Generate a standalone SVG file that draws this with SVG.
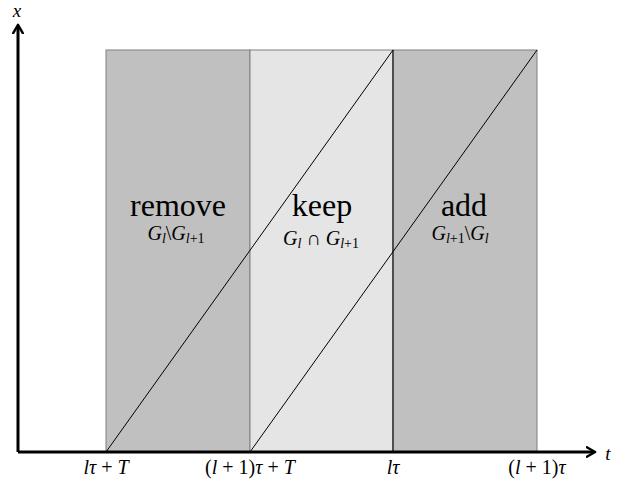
<svg xmlns="http://www.w3.org/2000/svg" width="624" height="485" viewBox="0 0 624 485">
<style>
.dark{fill:#c0c0c0}
.light{fill:#e5e5e5}
.edge{stroke:#808080;stroke-width:1;fill:none}
.line{stroke:#000;stroke-width:1;fill:none}
.axis{stroke:#000;stroke-width:3;fill:none}
.big{font-size:32px;text-anchor:middle}
.sub{font-size:20px;text-anchor:middle}
.tick{font-size:20px;text-anchor:middle}
.i{font-style:italic}
.s{font-size:14px}
</style>
<defs>
<marker id="ah" viewBox="0 0 10 10" refX="7" refY="5" markerWidth="4" markerHeight="4" orient="auto" markerUnits="strokeWidth">
<path d="M1,1 L8,5 L1,9" fill="none" stroke="#000" stroke-width="2" stroke-linecap="round" stroke-linejoin="round"/>
</marker>
</defs>
<g font-family="'Liberation Serif', 'DejaVu Serif', serif" fill="#000">
<g id="remove">
<rect class="dark" x="106" y="50" width="144" height="402"/>
<rect class="edge" x="106" y="50" width="144" height="402"/>
<text class="big" x="178" y="216">remove</text>
<text class="sub" x="176" y="240"><tspan class="i">G</tspan><tspan class="i s" dy="3">l</tspan><tspan dy="-3">\</tspan><tspan class="i">G</tspan><tspan class="s" dy="3"><tspan class="i">l</tspan>+1</tspan></text>
</g>
<g id="keep">
<rect class="light" x="250" y="50" width="143" height="402"/>
<rect class="edge" x="250" y="50" width="143" height="402"/>
<text class="big" x="322" y="216">keep</text>
<text class="sub" x="321" y="245"><tspan class="i">G</tspan><tspan class="i s" dy="3">l</tspan><tspan dy="-3"> ∩ </tspan><tspan class="i">G</tspan><tspan class="s" dy="3"><tspan class="i">l</tspan>+1</tspan></text>
</g>
<g id="add">
<rect class="dark" x="393" y="50" width="144" height="402"/>
<rect class="edge" x="393" y="50" width="144" height="402"/>
<text class="big" x="464" y="216">add</text>
<text class="sub" x="460" y="240"><tspan class="i">G</tspan><tspan class="s" dy="3"><tspan class="i">l</tspan>+1</tspan><tspan dy="-3">\</tspan><tspan class="i">G</tspan><tspan class="i s" dy="3">l</tspan></text>
</g>
<g id="connectors">
<line class="line" x1="393" y1="50" x2="393" y2="452"/>
<line class="line" x1="106" y1="452" x2="393" y2="50"/>
<line class="line" x1="250" y1="452" x2="537" y2="50"/>
<line class="axis" x1="18" y1="452" x2="18" y2="26" marker-end="url(#ah)"/>
<line class="axis" x1="18" y1="452" x2="594" y2="452" marker-end="url(#ah)"/>
</g>
<g id="labels">
<text class="i" x="17" y="17" font-size="19" text-anchor="middle">x</text>
<text class="i" x="608" y="460" font-size="19" text-anchor="middle">t</text>
<text class="tick" x="106" y="474"><tspan class="i">lτ</tspan> + <tspan class="i">T</tspan></text>
<text class="tick" x="250" y="474">(<tspan class="i">l</tspan> + 1)<tspan class="i">τ</tspan> + <tspan class="i">T</tspan></text>
<text class="tick" x="393" y="474"><tspan class="i">lτ</tspan></text>
<text class="tick" x="537" y="474">(<tspan class="i">l</tspan> + 1)<tspan class="i">τ</tspan></text>
</g>
</g>
</svg>
